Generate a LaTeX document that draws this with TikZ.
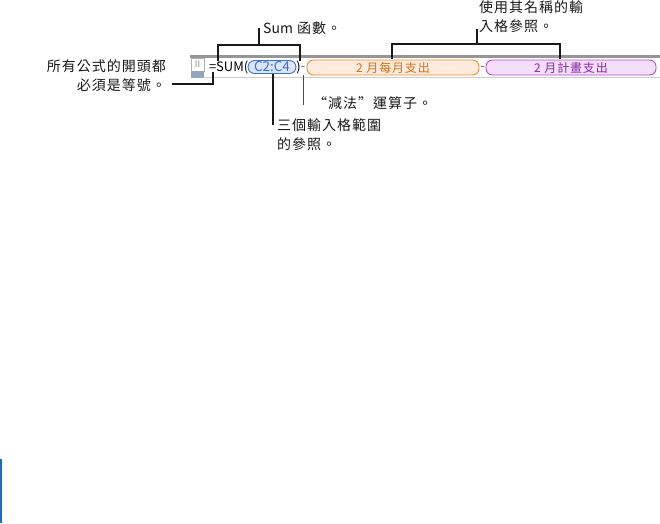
\documentclass[tikz,border=0pt]{standalone}
\usepackage{fontspec}
\setmainfont{Noto Sans CJK TC}
\newfontfamily\cjkfont[LetterSpace=7]{Noto Sans CJK TC}
\usetikzlibrary{positioning,calc}
\definecolor{barline}{RGB}{150,150,150}
\definecolor{gripfoot}{RGB}{150,165,190}
\definecolor{rangeblue}{RGB}{60,110,220}
\definecolor{rangefill}{RGB}{218,230,252}
\definecolor{monthorange}{RGB}{240,140,40}
\definecolor{monthtext}{RGB}{215,110,20}
\definecolor{monthfill}{RGB}{253,236,222}
\definecolor{planpurple}{RGB}{185,75,210}
\definecolor{plantext}{RGB}{140,40,170}
\definecolor{planfill}{RGB}{242,222,248}
\definecolor{sidemark}{RGB}{20,110,210}
\tikzset{
  every picture/.style={line join=miter},
  note/.style={font=\cjkfont\fontsize{14}{19}\selectfont,inner sep=0pt,text=black!90},
  callout/.style={draw=black!90,line width=1.3pt},
  cellpill/.style={rounded corners=6.5pt,line width=0.9pt,inner sep=0pt,
    font=\cjkfont\fontsize{12}{13}\selectfont},
  formula/.style={font=\fontsize{13}{15}\selectfont,inner sep=0pt},
}
\begin{document}
\begin{tikzpicture}[x=1pt,y=-1pt]
  \useasboundingbox (0,0) rectangle (660,523);
  % formula bar
  \draw[barline,line width=3pt] (190,56.5) -- (660,56.5);
  \draw[black!20,line width=0.8pt] (205,77) -- (660,77);
  \draw[black!30,fill=white] (191,58) rectangle (204,71);
  \node[font=\fontsize{9}{9}\selectfont,text=black!45,inner sep=0pt] (grip) at (197.5,64.5) {II};
  \fill[gripfoot] (191,71) rectangle (204,78);
  \node[formula,anchor=east] (sumcall) at (248.5,67.5) {=SUM(};
  \node[cellpill,draw=rangeblue,fill=rangefill,text=rangeblue,minimum width=48pt,
    minimum height=13pt,font=\fontsize{13.5}{14}\selectfont] (range) at (272,67) {C2:C4};
  \node[formula] (close) at (298.5,67.5) {)};
  \node[formula,text=black!60] (minus) at (303,68) {-};
  \node[cellpill,draw=monthorange,fill=monthfill,text=monthtext,minimum width=172pt,
    minimum height=15pt] (monthly) at (393,67.5) {2 月每月支出};
  \node[formula,text=black!60] (minus2) at (482.5,68) {-};
  \node[cellpill,draw=planpurple,fill=planfill,text=plantext,minimum width=170pt,
    minimum height=15pt] (planned) at (571,67.5) {2 月計畫支出};
  % notes
  \node[note,anchor=west] (sumnote) at (263,28) {{\normalfont Sum} 函數。};
  \node[note,anchor=north west,align=left] (namenote) at (479,0) {使用其名稱的輸\\入格參照。};
  \node[note,anchor=east,align=right] (eqnote) at (166,76) {所有公式的開頭都\\必須是等號。};
  \node[note,anchor=north west,align=left] (rangenote) at (277,118) {三個輸入格範圍\\的參照。};
  \node[note,anchor=west] (minusnote) at (313,103) {“減法”運算子。};
  \coordinate (sumL) at (218,61);
  \coordinate (sumR) at (300,61);
  \coordinate (sumstem) at (259,45);
  \coordinate (nameL) at (392,59);
  \coordinate (nameR) at (560,59);
  \coordinate (namestem) at (477,44);
  \coordinate (eqfoot) at (172,84);
  \coordinate (eqtip) at (213,72);
  \coordinate (rangefoot) at (273,125);
  \coordinate (minusfoot) at (303,105);
  \draw[callout] (sumL) |- (sumstem) -| (sumR);
  \draw[callout] (sumstem) -- (sumstem |- sumnote.west);
  \draw[callout] (nameL) |- (namestem) -| (nameR);
  \draw[callout] (namestem) -- ++(0,-15);
  \draw[callout] (eqfoot) -| (eqtip);
  \draw[callout] (range.south -| rangefoot) -- (rangefoot);
  \draw[black!70,line width=0.9pt] (minus.south) ++(0,5) -- (minusfoot);
  \fill[sidemark] (0,459) rectangle (2,523);
\end{tikzpicture}
\end{document}
